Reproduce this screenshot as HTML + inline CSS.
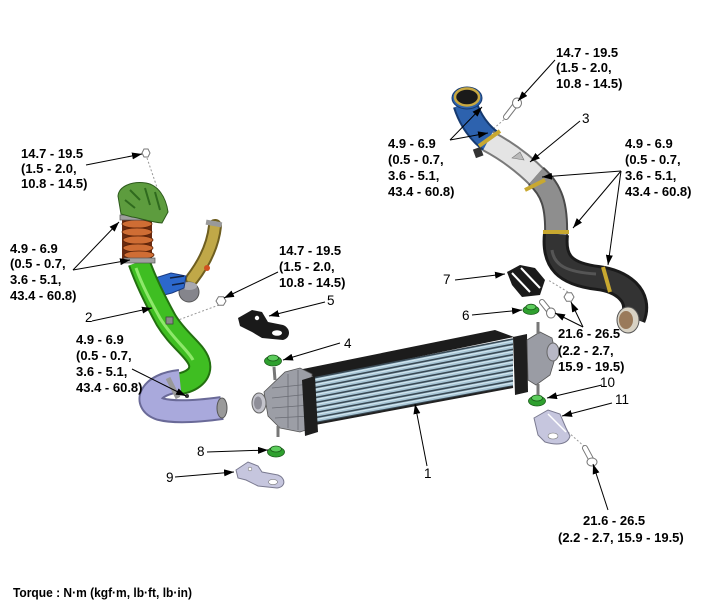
<!DOCTYPE html>
<html><head><meta charset="utf-8"><style>
html,body{margin:0;padding:0;background:#fff;}
svg{display:block;}
.b{font-family:"Liberation Sans",sans-serif;font-weight:bold;font-size:13px;fill:#000;}
.n{font-family:"Liberation Sans",sans-serif;font-size:13.5px;fill:#000;}
.ld{stroke:#000;stroke-width:1;fill:none;marker-end:url(#ah);}
.dt{stroke:#999;stroke-width:1;stroke-dasharray:2,2;fill:none;}
</style></head><body>
<svg width="703" height="604" viewBox="0 0 703 604" xmlns="http://www.w3.org/2000/svg">
<defs>
<marker id="ah" markerUnits="userSpaceOnUse" markerWidth="10" markerHeight="7" refX="10" refY="3.5" orient="auto">
<path d="M0,0 L10,3.5 L0,7 z" fill="#000"/>
</marker>
</defs>
<rect width="703" height="604" fill="#fff"/>

<!-- dotted lines -->
<path class="dt" d="M147,158 L163,205"/>
<path class="dt" d="M219,305 L170,323"/>
<path class="dt" d="M568,292 L548,280"/>
<path class="dt" d="M507,117 L492,130"/>
<path class="dt" d="M568,432 L586,448"/>

<!-- ===== Part 2: green hose assembly ===== -->
<!-- gold pipe -->
<path d="M215,226 C213,245 205,262 192,279" stroke="#6e5e20" stroke-width="14" fill="none" stroke-linecap="round"/>
<path d="M215,226 C213,245 205,262 192,279" stroke="#c0a848" stroke-width="10" fill="none" stroke-linecap="round"/>
<rect x="206" y="221" width="16" height="5" fill="#999" transform="rotate(10 214 223)"/>
<circle cx="207" cy="268" r="3" fill="#d05020"/>
<!-- gray cylinder -->
<ellipse cx="189" cy="292" rx="10" ry="10" fill="#85858c" stroke="#555" stroke-width="1"/>
<ellipse cx="189" cy="286" rx="8" ry="4" fill="#a8a8b0"/>
<!-- blue bracket -->
<path d="M152,279 L171,273 L186,276 L184,288 L172,293 L156,297 Z" fill="#2c68cc" stroke="#1a3a80" stroke-width="1"/>
<path d="M170,278 L184,276 M172,285 L184,283" stroke="#102040" stroke-width="1.5"/>
<!-- green hose -->
<path d="M139,262 C146,282 155,300 166,320 C178,340 195,350 199,362 C203,374 192,382 178,384" stroke="#237010" stroke-width="23" fill="none"/>
<path d="M139,262 C146,282 155,300 166,320 C178,340 195,350 199,362 C203,374 192,382 178,384" stroke="#3fbe22" stroke-width="19" fill="none"/>
<path d="M136,268 C142,285 150,300 160,318 C172,338 188,350 193,360" stroke="#8ee86a" stroke-width="3" fill="none"/>
<rect x="166" y="317" width="7" height="7" fill="#888" stroke="#444" stroke-width="0.8"/>
<!-- purple elbow -->
<path d="M180,381 C150,384 142,403 160,409 C175,413 200,411 222,408" stroke="#6a6a98" stroke-width="24" fill="none"/>
<path d="M180,381 C150,384 142,403 160,409 C175,413 200,411 222,408" stroke="#a9a9dc" stroke-width="20" fill="none"/>
<path d="M168,378 L178,398" stroke="#999" stroke-width="5"/>
<ellipse cx="222" cy="408" rx="5" ry="10" fill="#9a9a9a" stroke="#555" stroke-width="1"/>
<circle cx="187" cy="396" r="2" fill="#333"/>
<!-- orange bellows -->
<rect x="122" y="217" width="30" height="45" fill="#6a2a10"/>
<g fill="#cf6d34" stroke="#5a2208" stroke-width="0.8">
<ellipse cx="137" cy="224" rx="15" ry="4"/>
<ellipse cx="137" cy="232" rx="15" ry="4"/>
<ellipse cx="138" cy="240" rx="15" ry="4"/>
<ellipse cx="138" cy="248" rx="15" ry="4"/>
<ellipse cx="139" cy="255" rx="15" ry="4"/>
</g>
<rect x="120" y="215" width="32" height="5" fill="#a0a0a0" stroke="#555" stroke-width="0.7"/>
<rect x="124" y="258" width="31" height="5" fill="#a0a0a0" stroke="#555" stroke-width="0.7"/>
<!-- green turbo housing -->
<path d="M118,196 C119,186 132,181 146,183 C158,185 166,197 168,212 L162,223 C150,222 140,218 132,217 L121,214 Z" fill="#5d9c3e" stroke="#2d5a1c" stroke-width="1"/>
<path d="M130,190 L140,200 M145,188 L150,205 M155,192 L160,210 M125,200 L135,208" stroke="#2f6a1e" stroke-width="2"/>
<!-- top-left bolt -->
<polygon points="150,153 148,157 144,157 142,153 144,149 148,149" fill="#fff" stroke="#777" stroke-width="1"/>
<!-- middle bolt -->
<polygon points="226,301 223.5,305.3 218.5,305.3 216,301 218.5,296.7 223.5,296.7" fill="#fff" stroke="#777" stroke-width="1"/>

<!-- bracket 5 -->
<path d="M238,318 L252,310 L262,312 L268,322 L283,325 C291,328 291,338 283,340 L262,338 L252,332 L240,326 Z" fill="#1a1a1a"/>
<circle cx="257" cy="318" r="2.2" fill="#fff"/>
<ellipse cx="277" cy="333" rx="5" ry="2.8" fill="#fff"/>

<!-- grommets -->
<g stroke="#1a5a1a" stroke-width="0.8">
<ellipse cx="273" cy="361" rx="8.5" ry="5" fill="#2fa02f"/><ellipse cx="273" cy="358" rx="5.5" ry="3" fill="#5ccc5c"/>
<ellipse cx="276" cy="452" rx="8.5" ry="5" fill="#2fa02f"/><ellipse cx="276" cy="449" rx="5.5" ry="3" fill="#5ccc5c"/>
<ellipse cx="531" cy="310" rx="8" ry="4.5" fill="#2fa02f"/><ellipse cx="531" cy="307" rx="5" ry="2.8" fill="#5ccc5c"/>
<ellipse cx="537" cy="401" rx="8.5" ry="5" fill="#2fa02f"/><ellipse cx="537" cy="398" rx="5.5" ry="3" fill="#5ccc5c"/>
</g>

<!-- bracket 9 -->
<path d="M236,470 L248,462 L258,466 L262,472 L278,475 C286,478 286,487 277,488 L258,486 L246,480 L238,478 Z" fill="#c6c6de" stroke="#7a7a90" stroke-width="1"/>
<circle cx="250" cy="469" r="1.8" fill="#fff" stroke="#777" stroke-width="0.6"/>
<ellipse cx="273" cy="482" rx="4.5" ry="2.6" fill="#fff" stroke="#777" stroke-width="0.6"/>

<!-- ===== Intercooler ===== -->
<polygon points="298,370 495,330 514,337 316,378" fill="#1c1c1c"/>
<polygon points="313,378 513,339 513,386 315,423" fill="#a8c6d6"/>
<g stroke="#3a4a55" stroke-width="1.6">
<line x1="313" y1="378" x2="513" y2="339"/>
<line x1="313" y1="383" x2="513" y2="344.2"/>
<line x1="313" y1="388" x2="513" y2="349.4"/>
<line x1="313" y1="393" x2="513" y2="354.7"/>
<line x1="313" y1="398" x2="513" y2="359.9"/>
<line x1="313" y1="403" x2="513" y2="365.1"/>
<line x1="313" y1="408" x2="513" y2="370.3"/>
<line x1="313" y1="413" x2="513" y2="375.6"/>
<line x1="313" y1="418" x2="513" y2="380.8"/>
<line x1="313" y1="423" x2="513" y2="386"/>
</g>
<g stroke="#d6e8f0" stroke-width="1">
<line x1="313" y1="380" x2="513" y2="341"/>
<line x1="313" y1="385" x2="513" y2="346.2"/>
<line x1="313" y1="390" x2="513" y2="351.4"/>
<line x1="313" y1="395" x2="513" y2="356.7"/>
<line x1="313" y1="400" x2="513" y2="361.9"/>
<line x1="313" y1="405" x2="513" y2="367.1"/>
<line x1="313" y1="410" x2="513" y2="372.3"/>
<line x1="313" y1="415" x2="513" y2="377.6"/>
<line x1="313" y1="420" x2="513" y2="382.8"/>
</g>
<line x1="315" y1="424" x2="513" y2="387" stroke="#222" stroke-width="2"/>
<!-- left tank -->
<polygon points="264,392 285,372 300,368 312,374 312,428 300,432 280,428 268,416" fill="#9c9ea6" stroke="#555" stroke-width="0.8"/>
<g stroke="#6a6c74" stroke-width="0.8">
<line x1="272" y1="388" x2="310" y2="384"/><line x1="272" y1="398" x2="310" y2="394"/><line x1="272" y1="408" x2="310" y2="405"/><line x1="275" y1="418" x2="310" y2="416"/>
<line x1="288" y1="374" x2="288" y2="428"/><line x1="298" y1="370" x2="298" y2="430"/>
</g>
<line x1="275" y1="380" x2="274" y2="367" stroke="#777" stroke-width="3"/>
<line x1="278" y1="426" x2="278" y2="437" stroke="#777" stroke-width="3"/>
<ellipse cx="259" cy="403" rx="7" ry="10" fill="#c4c4cc" stroke="#666" stroke-width="1"/>
<ellipse cx="258" cy="403" rx="4" ry="6.5" fill="#8e8e98"/>
<polygon points="302,380 315,376 318,432 305,436" fill="#1e1e1e"/>
<!-- right side -->
<polygon points="513,337 527,334 528,392 515,395" fill="#1e1e1e"/>
<polygon points="527,340 540,332 552,338 556,355 550,375 536,385 528,380" fill="#9a9ca4" stroke="#555" stroke-width="0.8"/>
<line x1="538" y1="334" x2="538" y2="322" stroke="#777" stroke-width="3"/>
<line x1="538" y1="384" x2="538" y2="395" stroke="#777" stroke-width="3"/>
<ellipse cx="553" cy="352" rx="6" ry="9" fill="#b8b8c6" stroke="#666" stroke-width="1"/>

<!-- ===== Pipe 3 ===== -->
<path d="M465,104 C470,120 480,134 492,142" stroke="#163a70" stroke-width="25" fill="none"/>
<path d="M465,104 C470,120 480,134 492,142" stroke="#2d62ae" stroke-width="21" fill="none"/>
<ellipse cx="467" cy="98" rx="15" ry="11" fill="#2d62ae" stroke="#163a70" stroke-width="1"/>
<ellipse cx="467" cy="97" rx="12" ry="8.5" fill="#1a1a1a" stroke="#c8a840" stroke-width="2.5"/>
<rect x="474" y="148" width="8" height="9" fill="#333" transform="rotate(-20 478 152)"/>
<path d="M488,141 C505,150 522,162 538,178" stroke="#7a7a7a" stroke-width="23" fill="none"/>
<path d="M488,141 C505,150 522,162 538,178" stroke="#e4e4e4" stroke-width="19" fill="none"/>
<path d="M512,158 L520,152 L524,160 Z" fill="#bbb" stroke="#777" stroke-width="0.6"/>
<path d="M536,176 C552,190 557,206 556,236" stroke="#4a4a4a" stroke-width="24" fill="none"/>
<path d="M536,176 C552,190 557,206 556,236" stroke="#8e8e8e" stroke-width="20" fill="none"/>
<path d="M556,234 C553,262 565,274 598,278 C622,281 642,296 633,318" stroke="#1a1a1a" stroke-width="26" fill="none"/>
<path d="M556,234 C553,262 565,274 598,278 C622,281 642,296 633,318" stroke="#333" stroke-width="20" fill="none"/>
<path d="M552,250 C554,265 566,272 596,274" stroke="#555" stroke-width="3" fill="none"/>
<ellipse cx="628" cy="320" rx="11" ry="13" fill="#d8d2c4" stroke="#555" stroke-width="1"/>
<ellipse cx="626" cy="320" rx="7" ry="9" fill="#9a7a5a"/>
<g stroke="#c8a830" stroke-width="4">
<line x1="479" y1="146" x2="500" y2="131"/>
<line x1="525" y1="190" x2="545" y2="180"/>
<line x1="543" y1="232" x2="569" y2="232"/>
<line x1="603" y1="267" x2="610" y2="292"/>
</g>
<!-- bracket 7 -->
<polygon points="507,272 520,265 535,268 545,280 540,295 522,297 512,285" fill="#1a1a1a"/>
<line x1="512" y1="273" x2="530" y2="292" stroke="#fff" stroke-width="2"/>
<line x1="521" y1="268" x2="540" y2="288" stroke="#fff" stroke-width="2"/>
<!-- bracket 11 -->
<path d="M534,418 L548,410 L560,414 L566,428 L570,436 C568,444 558,446 545,442 L538,435 Z" fill="#c6c6de" stroke="#7a7a90" stroke-width="1"/>
<ellipse cx="553" cy="436" rx="5" ry="3" fill="#fff" stroke="#777" stroke-width="0.6"/>
<line x1="548" y1="414" x2="566" y2="432" stroke="#fff" stroke-width="1.5"/>

<!-- bolts right -->
<line x1="516" y1="104" x2="506" y2="117" stroke="#777" stroke-width="6" stroke-linecap="round"/>
<line x1="516" y1="104" x2="506" y2="117" stroke="#fff" stroke-width="4" stroke-linecap="round"/>
<ellipse cx="517" cy="103" rx="4.5" ry="5" fill="#fff" stroke="#777" stroke-width="1"/>
<line x1="550" y1="312" x2="542" y2="302" stroke="#777" stroke-width="6" stroke-linecap="round"/>
<line x1="550" y1="312" x2="542" y2="302" stroke="#fff" stroke-width="4" stroke-linecap="round"/>
<ellipse cx="551" cy="313" rx="4.5" ry="5" fill="#fff" stroke="#777" stroke-width="1"/>
<polygon points="574,297 571.5,301.3 566.5,301.3 564,297 566.5,292.7 571.5,292.7" fill="#fff" stroke="#777" stroke-width="1"/>
<line x1="592" y1="461" x2="585" y2="448" stroke="#777" stroke-width="6" stroke-linecap="round"/>
<line x1="592" y1="461" x2="585" y2="448" stroke="#fff" stroke-width="4" stroke-linecap="round"/>
<ellipse cx="592" cy="462" rx="5" ry="4" fill="#fff" stroke="#777" stroke-width="1"/>

<!-- ===== leader lines ===== -->
<path class="ld" d="M86,165 L142,154"/>
<path class="ld" d="M73,270 L119,222"/>
<path class="ld" d="M73,270 L130,260"/>
<path class="ld" d="M92,321 L152,308"/>
<path class="ld" d="M132,369 L186,396"/>
<path class="ld" d="M278,272 L224,298"/>
<path class="ld" d="M325,302 L269,316"/>
<path class="ld" d="M340,343 L283,360"/>
<path class="ld" d="M427,466 L415,404"/>
<path class="ld" d="M207,452 L268,450"/>
<path class="ld" d="M175,477 L234,472"/>
<path class="ld" d="M472,315 L522,310"/>
<path class="ld" d="M455,280 L505,274"/>
<path class="ld" d="M583,327 L555,313"/>
<path class="ld" d="M583,327 L571,302"/>
<path class="ld" d="M602,385 L547,398"/>
<path class="ld" d="M612,403 L562,416"/>
<path class="ld" d="M608,510 L593,464"/>
<path class="ld" d="M580,121 L530,162"/>
<path class="ld" d="M450,140 L482,107"/>
<path class="ld" d="M450,140 L488,133"/>
<path class="ld" d="M621,171 L542,177"/>
<path class="ld" d="M621,171 L573,228"/>
<path class="ld" d="M621,171 L608,265"/>
<path class="ld" d="M555,60 L518,101"/>

<!-- ===== text ===== -->
<text class="b" x="21" y="158">14.7 - 19.5</text>
<text class="b" x="21" y="173">(1.5 - 2.0,</text>
<text class="b" x="21" y="188">10.8 - 14.5)</text>

<text class="b" x="10" y="253">4.9 - 6.9</text>
<text class="b" x="10" y="268">(0.5 - 0.7,</text>
<text class="b" x="10" y="284">3.6 - 5.1,</text>
<text class="b" x="10" y="300">43.4 - 60.8)</text>

<text class="b" x="279" y="255">14.7 - 19.5</text>
<text class="b" x="279" y="271">(1.5 - 2.0,</text>
<text class="b" x="279" y="287">10.8 - 14.5)</text>

<text class="b" x="76" y="344">4.9 - 6.9</text>
<text class="b" x="76" y="360">(0.5 - 0.7,</text>
<text class="b" x="76" y="376">3.6 - 5.1,</text>
<text class="b" x="76" y="392">43.4 - 60.8)</text>

<text class="b" x="556" y="57">14.7 - 19.5</text>
<text class="b" x="556" y="72">(1.5 - 2.0,</text>
<text class="b" x="556" y="88">10.8 - 14.5)</text>

<text class="b" x="388" y="148">4.9 - 6.9</text>
<text class="b" x="388" y="164">(0.5 - 0.7,</text>
<text class="b" x="388" y="180">3.6 - 5.1,</text>
<text class="b" x="388" y="196">43.4 - 60.8)</text>

<text class="b" x="625" y="148">4.9 - 6.9</text>
<text class="b" x="625" y="164">(0.5 - 0.7,</text>
<text class="b" x="625" y="180">3.6 - 5.1,</text>
<text class="b" x="625" y="196">43.4 - 60.8)</text>

<text class="b" x="558" y="338">21.6 - 26.5</text>
<text class="b" x="558" y="355">(2.2 - 2.7,</text>
<text class="b" x="558" y="371">15.9 - 19.5)</text>

<text class="b" x="583" y="525">21.6 - 26.5</text>
<text class="b" x="558" y="542">(2.2 - 2.7, 15.9 - 19.5)</text>

<text class="b" x="13" y="597" textLength="179" lengthAdjust="spacingAndGlyphs">Torque : N·m (kgf·m, lb·ft, lb·in)</text>

<text class="n" x="582" y="123">3</text>
<text class="n" x="85" y="322">2</text>
<text class="n" x="327" y="305">5</text>
<text class="n" x="344" y="348">4</text>
<text class="n" x="462" y="320">6</text>
<text class="n" x="443" y="284">7</text>
<text class="n" x="197" y="456">8</text>
<text class="n" x="166" y="482">9</text>
<text class="n" x="424" y="478">1</text>
<text class="n" x="600" y="387">10</text>
<text class="n" x="615" y="404">11</text>
</svg>
</body></html>
